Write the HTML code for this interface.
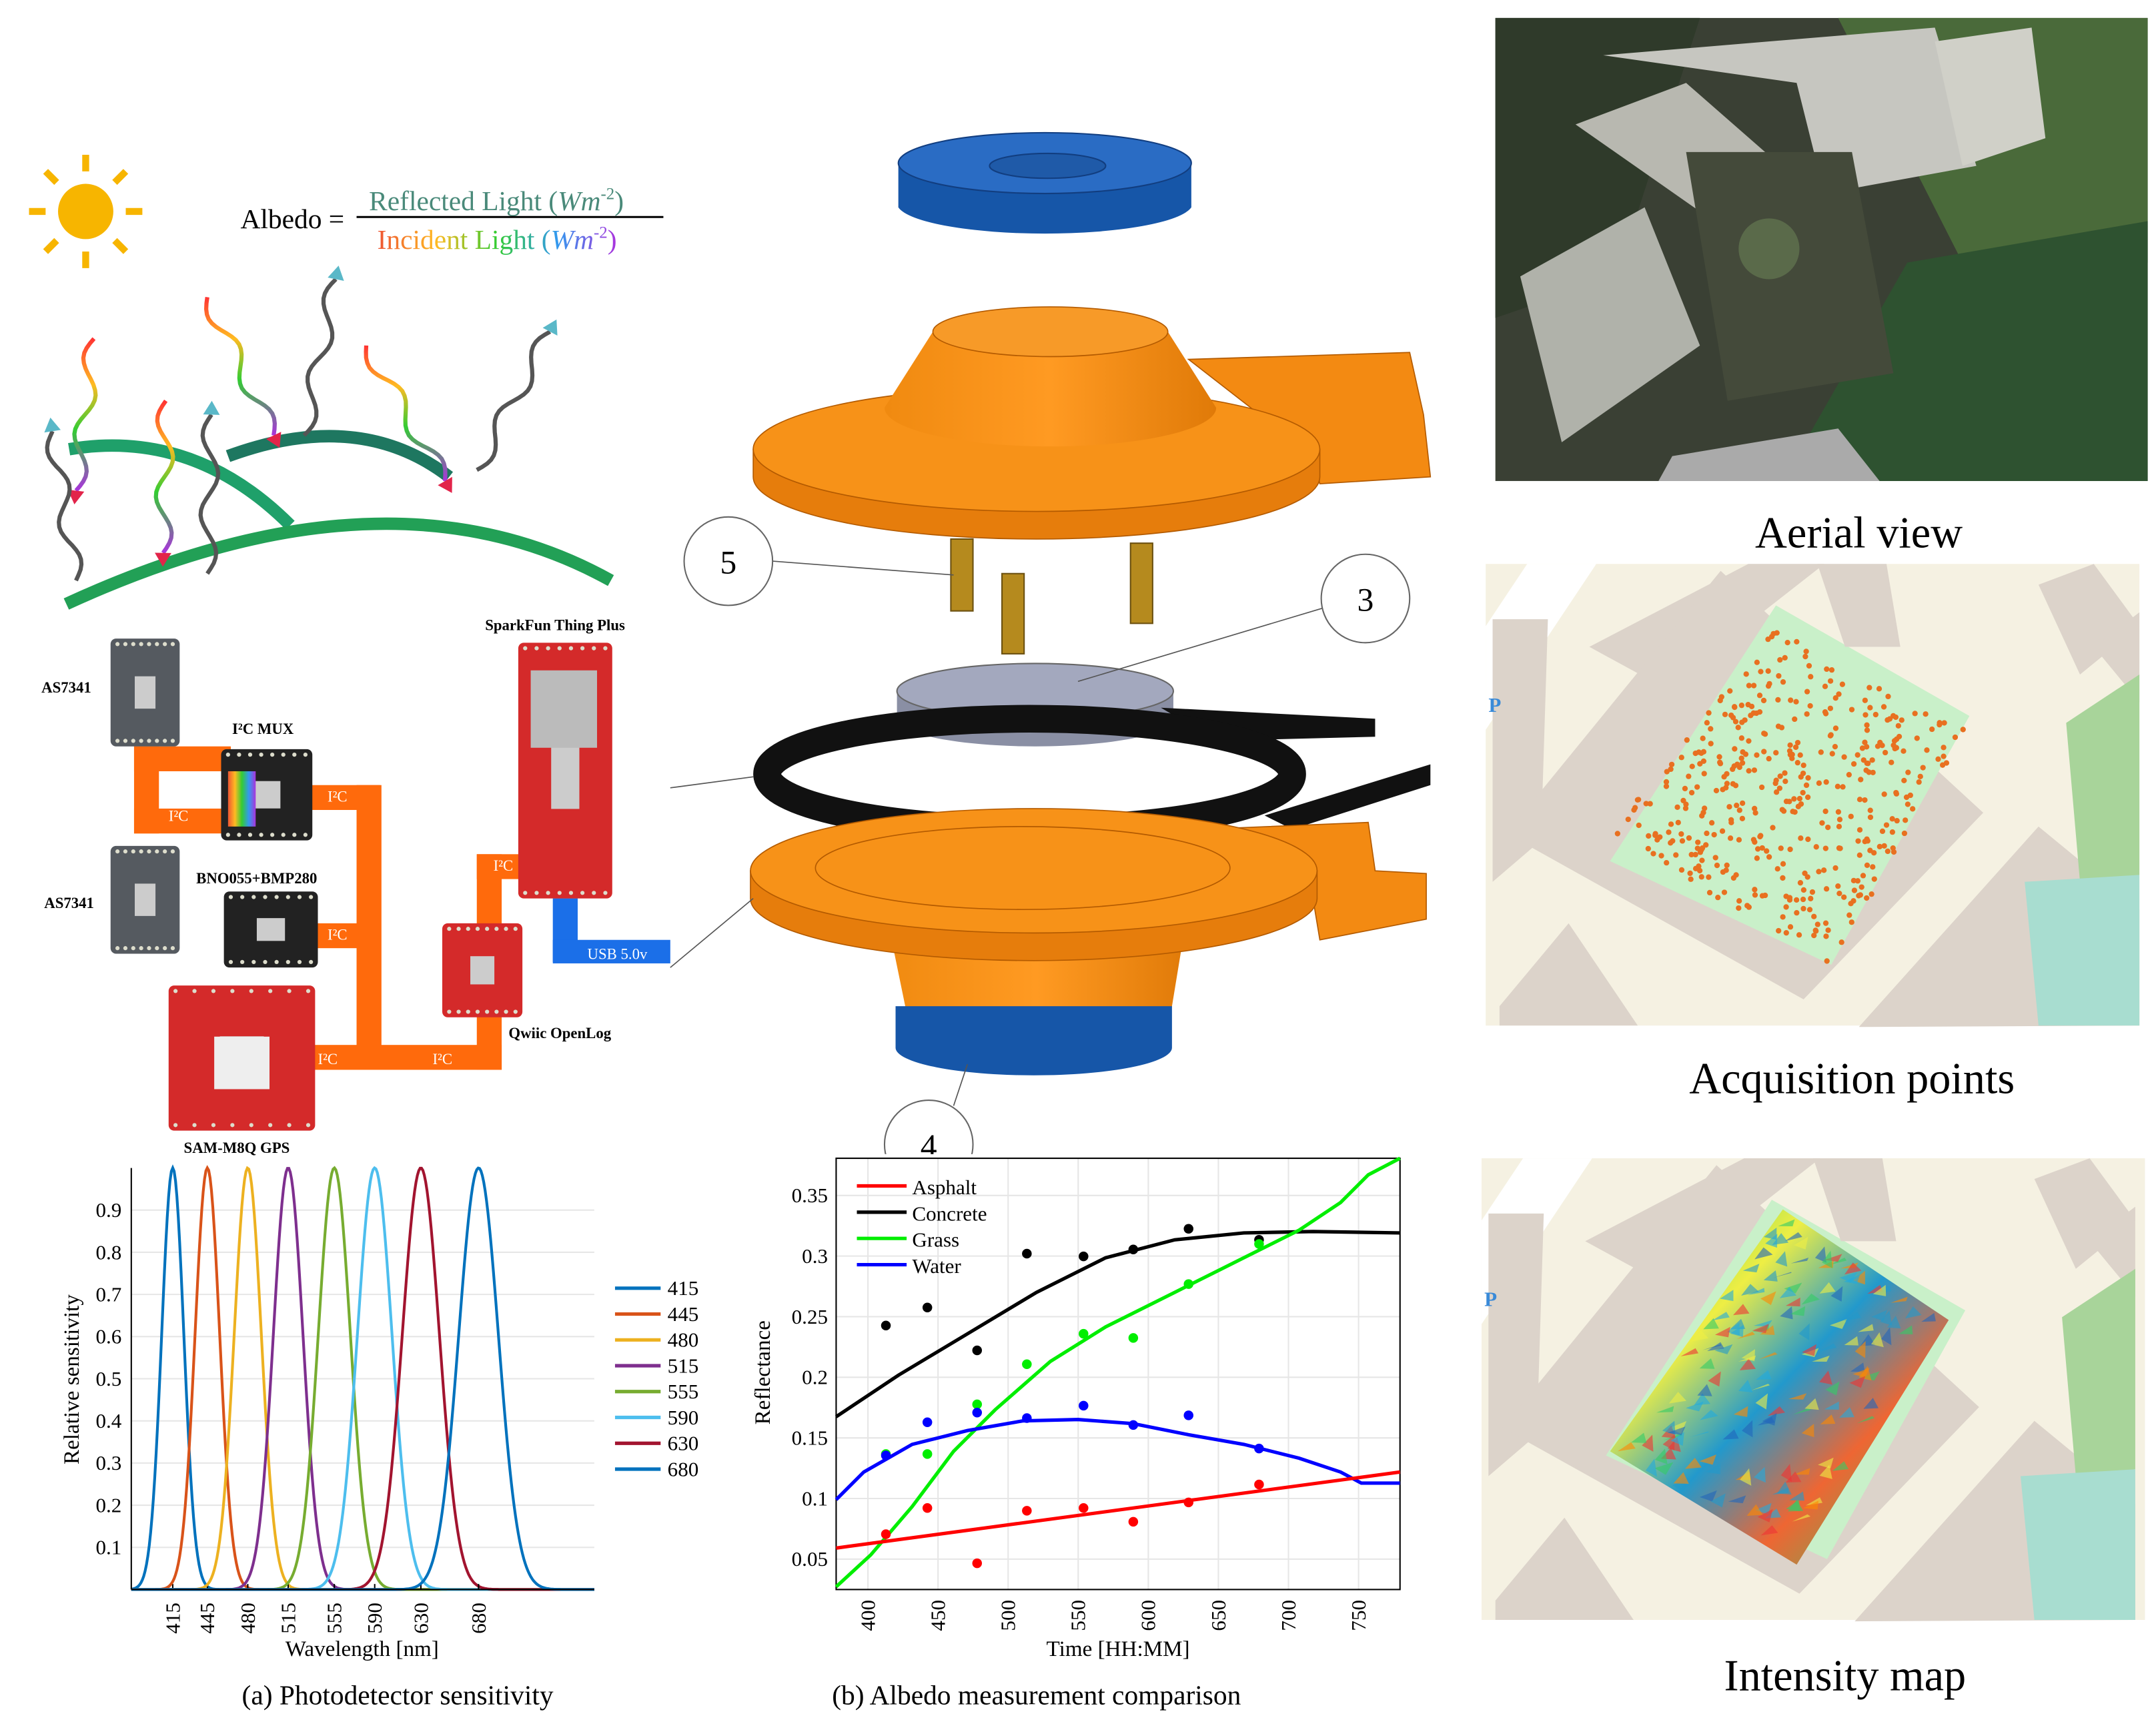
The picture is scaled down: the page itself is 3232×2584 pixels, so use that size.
<!DOCTYPE html>
<html><head><meta charset="utf-8"><style>
html,body{margin:0;padding:0;background:#fff;}
svg{display:block;}
text{font-family:"Liberation Serif",serif;}
.sans{font-family:"Liberation Sans",sans-serif;font-weight:bold;}
</style></head><body>
<svg id="s" width="3232" height="2584" viewBox="0 0 1560 1247.3" preserveAspectRatio="none" xmlns="http://www.w3.org/2000/svg">
<defs>
<linearGradient id="rb" x1="0" x2="1"><stop offset="0" stop-color="#e53"/><stop offset=".25" stop-color="#fb2"/><stop offset=".5" stop-color="#3c3"/><stop offset=".75" stop-color="#39e"/><stop offset="1" stop-color="#a3d"/></linearGradient>
<linearGradient id="wv" x1="0" y1="0" x2="0" y2="1"><stop offset="0" stop-color="#f33"/><stop offset=".3" stop-color="#fb2"/><stop offset=".6" stop-color="#3c3"/><stop offset="1" stop-color="#a3d"/></linearGradient>
<linearGradient id="or" x1="0" x2="1"><stop offset="0" stop-color="#f08a10"/><stop offset=".5" stop-color="#ff9a22"/><stop offset="1" stop-color="#e07a08"/></linearGradient>
<linearGradient id="heat" x1="0" y1="0" x2="1" y2="1"><stop offset="0" stop-color="#3c6"/><stop offset=".3" stop-color="#ee4"/><stop offset=".5" stop-color="#29c"/><stop offset=".7" stop-color="#e63"/><stop offset="1" stop-color="#3c6"/></linearGradient>
</defs>

<circle cx="62" cy="153" r="20" fill="#f7b500"/>
<g stroke="#f7b500" stroke-width="5">
<line x1="62" y1="112" x2="62" y2="124"/><line x1="62" y1="182" x2="62" y2="194"/>
<line x1="21" y1="153" x2="33" y2="153"/><line x1="91" y1="153" x2="103" y2="153"/>
<line x1="33" y1="124" x2="41" y2="132"/><line x1="83" y1="174" x2="91" y2="182"/>
<line x1="91" y1="124" x2="83" y2="132"/><line x1="41" y1="174" x2="33" y2="182"/>
</g>
<text x="174" y="165" font-size="20">Albedo =</text>
<text x="267" y="152" font-size="20" fill="#4a8a7a">Reflected Light (<tspan font-style="italic">Wm</tspan><tspan font-size="12" dy="-8">-2</tspan><tspan dy="8">)</tspan></text>
<line x1="258" y1="157" x2="480" y2="157" stroke="#000" stroke-width="1.5"/>
<text x="273" y="180" font-size="20" fill="url(#rb)">Incident Light  (<tspan font-style="italic">Wm</tspan><tspan font-size="12" dy="-8">-2</tspan><tspan dy="8">)</tspan></text>

<path d="M50,325 Q140,310 210,380" stroke="#1fa06a" stroke-width="9" fill="none"/>
<path d="M165,330 Q260,295 325,345" stroke="#1e7760" stroke-width="9" fill="none"/>
<path d="M48,437 Q280,330 442,420" stroke="#22a056" stroke-width="9" fill="none"/>
<g fill="none" stroke-width="3" id="waves"></g>

<g fill="#ff6a0c">
<rect x="97" y="540" width="70" height="18"/><rect x="97" y="585" width="70" height="18"/>
<rect x="97" y="540" width="18" height="63"/>
<rect x="225" y="568" width="50" height="18"/><rect x="258" y="568" width="18" height="205"/>
<rect x="225" y="668" width="50" height="18"/>
<rect x="225" y="756" width="138" height="18"/><rect x="345" y="700" width="18" height="74"/>
<rect x="345" y="618" width="18" height="60"/><rect x="345" y="618" width="40" height="18"/>
</g>
<rect x="400" y="650" width="18" height="46" fill="#1b6fe8"/><rect x="400" y="680" width="85" height="17" fill="#1b6fe8"/>
<text x="425" y="694" font-size="11" fill="#fff">USB 5.0v</text>
<g font-size="11" fill="#fff"><text x="122" y="566">I²C</text><text x="122" y="594">I²C</text><text x="237" y="580">I²C</text><text x="237" y="680">I²C</text><text x="230" y="770">I²C</text><text x="313" y="770">I²C</text><text x="357" y="630">I²C</text></g>
<g id="boards"></g>
<g class="sans" font-size="11"><text x="30" y="501">AS7341</text><text x="32" y="657">AS7341</text><text x="168" y="531">I²C MUX</text><text x="142" y="639">BNO055+BMP280</text><text x="351" y="456">SparkFun Thing Plus</text><text x="368" y="751">Qwiic OpenLog</text><text x="133" y="834">SAM-M8Q GPS</text></g>

<path d="M650,118 L650,150 A107,22 0 0 0 862,150 L862,118 Z" fill="#1656a8"/>
<ellipse cx="756" cy="118" rx="106" ry="22" fill="#2a6cc4" stroke="#123e80"/>
<ellipse cx="758" cy="120" rx="42" ry="9" fill="#1f5aa8" stroke="#123e80"/>
<path d="M860,260 L1020,255 L1030,300 L1035,345 L955,350 L950,330 Z" fill="#f38a12" stroke="#b35a00" stroke-width="0.8"/>
<path d="M545,325 L545,345 A205,45 0 0 0 955,345 L955,325 Z" fill="#e67d0c" stroke="#b35a00" stroke-width="0.8"/>
<ellipse cx="750" cy="325" rx="205" ry="45" fill="#f79218" stroke="#b35a00" stroke-width="0.8"/>
<path d="M640,295 L675,240 A85,18 0 0 1 845,240 L880,295 A120,28 0 0 1 640,295 Z" fill="url(#or)"/>
<ellipse cx="760" cy="240" rx="85" ry="18" fill="#f79a28" stroke="#b35a00" stroke-width="0.8"/>
<g fill="#b58a1e" stroke="#6b5010"><rect x="688" y="390" width="16" height="52"/><rect x="725" y="415" width="16" height="58"/><rect x="818" y="393" width="16" height="58"/></g>
<path d="M649,500 L649,520 A100,20 0 0 0 849,520 L849,500 Z" fill="#8a8fa4"/>
<ellipse cx="749" cy="500" rx="100" ry="20" fill="#a3a8be" stroke="#666"/>
<path d="M840,512 L995,520 L995,533 L880,536 Z M915,590 L1035,553 L1035,568 L935,600 Z" fill="#111"/>
<ellipse cx="745" cy="560" rx="190" ry="40" fill="none" stroke="#111" stroke-width="20"/>
<path d="M640,655 L655,728 A95,18 0 0 0 848,728 L860,655 Z" fill="url(#or)"/>
<path d="M648,728 L648,758 A100,20 0 0 0 848,758 L848,728 Z" fill="#1656a8"/>
<path d="M870,600 L990,595 L995,630 L1032,632 L1032,665 L955,680 L950,650 Z" fill="#f38a12" stroke="#b35a00" stroke-width="0.8"/>
<path d="M543,630 L543,650 A205,45 0 0 0 953,650 L953,630 Z" fill="#e67d0c" stroke="#b35a00" stroke-width="0.8"/>
<ellipse cx="748" cy="630" rx="205" ry="45" fill="#f79218" stroke="#b35a00" stroke-width="0.8"/>
<ellipse cx="740" cy="628" rx="150" ry="30" fill="none" stroke="#b35a00" stroke-width="0.8"/>
<g stroke="#555" stroke-width="0.8"><line x1="559" y1="406" x2="690" y2="416"/><line x1="957" y1="440" x2="780" y2="493"/><line x1="485" y1="570" x2="545" y2="562"/><line x1="485" y1="700" x2="545" y2="650"/><line x1="690" y1="800" x2="700" y2="770"/></g>
<g fill="#fff" stroke="#666"><circle cx="527" cy="406" r="32"/><circle cx="988" cy="433" r="32"/><circle cx="672" cy="828" r="32"/></g>
<g font-size="24" font-family="Liberation Sans,sans-serif" text-anchor="middle"><text x="527" y="415">5</text><text x="988" y="442">3</text><text x="672" y="837">4</text></g>
<rect x="560" y="835" width="460" height="330" fill="#fff"/>

<g id="ca"></g>
<g id="cb"></g>
<text x="175" y="1233" font-size="20">(a) Photodetector sensitivity</text>
<text x="602" y="1233" font-size="20">(b) Albedo measurement comparison</text>

<rect x="1082" y="13" width="472" height="335" fill="#3a4034"/>
<polygon points="1082,13 1230,13 1170,200 1082,230" fill="#2f3a2a"/>
<polygon points="1330,13 1554,13 1554,190 1420,190" fill="#4a6a3a"/>
<polygon points="1380,190 1554,160 1554,348 1290,348" fill="#2e5230"/>
<polygon points="1140,90 1220,60 1300,130 1240,160" fill="#b8b8b0"/>
<polygon points="1160,40 1400,20 1430,120 1320,140 1300,60" fill="#c6c6c0"/>
<polygon points="1100,200 1190,150 1230,250 1130,320" fill="#b0b2aa"/>
<polygon points="1210,330 1330,310 1360,348 1200,348" fill="#aaa"/>
<polygon points="1400,30 1470,20 1480,100 1420,120" fill="#d0d0c8"/>
<polygon points="1220,110 1340,110 1370,270 1250,290" fill="#444a3a"/>
<circle cx="1280" cy="180" r="22" fill="#5a6a4a"/>
<text x="1345" y="396" font-size="32" text-anchor="middle">Aerial view</text>
<text x="1340" y="791" font-size="32" text-anchor="middle">Acquisition points</text>
<text x="1335" y="1223" font-size="32" text-anchor="middle">Intensity map</text>

<g id="m1"><rect x="1075" y="408" width="473" height="334" fill="#f5f1e2"/></g>
<g id="m2"><rect x="1072" y="838" width="480" height="334" fill="#f5f1e2"/></g>
</svg>
<script>
var NS="http://www.w3.org/2000/svg";
function el(p,t,a,txt){var e=document.createElementNS(NS,t);for(var k in a)e.setAttribute(k,a[k]);if(txt!=null)e.textContent=txt;p.appendChild(e);return e;}
var W=document.getElementById('waves');
function wave(x0,y0,x1,y1,col,arrowEnd,acol){var d="M"+x0+","+y0;var n=30,dx=x1-x0,dy=y1-y0,L=Math.hypot(dx,dy),nx=-dy/L,ny=dx/L;for(var i=1;i<=n;i++){var t=i/n,a=Math.sin(t*Math.PI*4)*6;d+=" L"+(x0+dx*t+nx*a).toFixed(1)+","+(y0+dy*t+ny*a).toFixed(1);}el(W,'path',{d:d,stroke:col});var ux=dx/L,uy=dy/L;el(W,'polygon',{points:(x1+ux*10)+","+(y1+uy*10)+" "+(x1-uy*6)+","+(y1+ux*6)+" "+(x1+uy*6)+","+(y1-ux*6),fill:acol,stroke:'none'});}
wave(68,245,55,355,'url(#wv)',1,'#e2244a');wave(120,290,118,400,'url(#wv)',1,'#e2244a');wave(150,215,198,315,'url(#wv)',1,'#e2244a');wave(265,250,322,348,'url(#wv)',1,'#e2244a');
wave(55,420,38,312,'#555',1,'#5ab8c8');wave(150,415,153,300,'#555',1,'#5ab8c8');wave(220,315,243,202,'#555',1,'#5ab8c8');wave(345,340,398,240,'#555',1,'#5ab8c8');
var B=document.getElementById('boards');
function board(x,y,w,h,c){el(B,'rect',{x:x,y:y,width:w,height:h,rx:4,fill:c});for(var i=0;i<8;i++){el(B,'circle',{cx:x+5+i*(w-10)/7,cy:y+4,r:1.5,fill:'#ddc'});el(B,'circle',{cx:x+5+i*(w-10)/7,cy:y+h-4,r:1.5,fill:'#ddc'});}el(B,'rect',{x:x+w*0.35,y:y+h*0.35,width:w*0.3,height:h*0.3,fill:'#ccc'});}
board(80,462,50,78,'#555a60');board(80,612,50,78,'#555a60');board(160,542,66,66,'#222');board(162,645,68,55,'#222');
board(375,465,68,185,'#d42a2a');board(320,668,58,68,'#d42a2a');board(122,713,106,105,'#d42a2a');
el(B,'rect',{x:384,y:485,width:48,height:56,fill:'#bbb'});el(B,'rect',{x:155,y:750,width:40,height:38,fill:'#eee'});
el(B,'rect',{x:165,y:558,width:20,height:40,fill:'url(#rb)'});
var A=document.getElementById('ca');
var ax0=95,ax1=430,ay0=845,ay1=1150;
for(var v=1;v<=9;v++){var y=ay1-v*30.5;el(A,'line',{x1:ax0,y1:y,x2:ax1,y2:y,stroke:'#e6e6e6'});el(A,'text',{x:88,y:y+5,'font-size':15,'text-anchor':'end'},'0.'+v);}
var L=[415,445,480,515,555,590,630,680],C=['#0072bd','#d95319','#edb120','#7e2f8e','#77ac30','#4dbeee','#a2142f','#0072bd'];
function lx(l){return 125+(l-415)*0.835;}
L.forEach(function(l,i){var sg=8+i*0.9,d="";for(var x=ax0;x<=ax1;x+=1){var y=ay1-305*Math.exp(-Math.pow((x-lx(l))/sg,2)/2);d+=(x==ax0?"M":"L")+x+","+y.toFixed(1);}el(A,'path',{d:d,fill:'none',stroke:C[i],'stroke-width':2});el(A,'line',{x1:lx(l),y1:1146,x2:lx(l),y2:1150,stroke:'#000'});el(A,'text',{x:0,y:0,'font-size':15,transform:'translate('+(lx(l)+5)+',1182) rotate(-90)'},l);
el(A,'line',{x1:445,y1:932+i*18.7,x2:478,y2:932+i*18.7,stroke:C[i],'stroke-width':2.5});el(A,'text',{x:483,y:937+i*18.7,'font-size':15},l);});
el(A,'line',{x1:ax0,y1:ay0,x2:ax0,y2:ay1,stroke:'#000'});el(A,'line',{x1:ax0,y1:ay1,x2:ax1,y2:ay1,stroke:'#000'});
el(A,'text',{x:262,y:1198,'font-size':16,'text-anchor':'middle'},'Wavelength [nm]');
el(A,'text',{x:0,y:0,'font-size':16,'text-anchor':'middle',transform:'translate(57,998) rotate(-90)'},'Relative sensitivity');
var Bc=document.getElementById('cb');
var bx0=605,bx1=1013,by0=838,by1=1150;
el(Bc,'rect',{x:bx0,y:by0,width:bx1-bx0,height:by1-by0,fill:'#fff'});
for(var k=0;k<7;k++){var v=0.05+k*0.05,y=1128-(v-0.05)*877;el(Bc,'line',{x1:bx0,y1:y,x2:bx1,y2:y,stroke:'#e6e6e6'});el(Bc,'text',{x:599,y:y+5,'font-size':15,'text-anchor':'end'},k==0?'0.05':(+v.toFixed(2)).toString());}
for(var t=400;t<=750;t+=50){var x=628+(t-400)*1.0143;el(Bc,'line',{x1:x,y1:by0,x2:x,y2:by1,stroke:'#e6e6e6'});el(Bc,'text',{x:0,y:0,'font-size':15,transform:'translate('+(x+5)+',1180) rotate(-90)'},t);}
el(Bc,'rect',{x:bx0,y:by0,width:bx1-bx0,height:by1-by0,fill:'none',stroke:'#000'});
function pl(pts,c){el(Bc,'polyline',{points:pts,fill:'none',stroke:c,'stroke-width':2.5});}
pl("605,1025 650,995 700,965 750,935 800,910 850,897 900,892 950,891 1013,892",'#000');
pl("605,1148 630,1125 660,1090 690,1050 720,1020 760,985 800,960 850,935 900,910 940,890 970,870 990,850 1013,838",'#0e0');
pl("605,1085 625,1065 660,1045 700,1035 740,1028 780,1027 820,1030 860,1038 900,1045 940,1055 970,1065 985,1073 1013,1073",'#00f');
pl("605,1120 1013,1065",'#f00');
function dots(a,c){for(var i=0;i<a.length;i+=2)el(Bc,'circle',{cx:a[i],cy:a[i+1],r:3.5,fill:c});}
dots([641,959,671,946,707,977,743,907,784,909,820,904,860,889,911,897],'#000');
dots([641,1052,671,1052,707,1016,743,987,784,965,820,968,860,929,911,900],'#0e0');
dots([641,1053,671,1029,707,1022,743,1026,784,1017,820,1031,860,1024,911,1048],'#00f');
dots([641,1110,671,1091,707,1131,743,1093,784,1091,820,1101,860,1087,911,1074],'#f00');
var ln=[['Asphalt','#f00'],['Concrete','#000'],['Grass','#0e0'],['Water','#00f']];
ln.forEach(function(q,i){el(Bc,'line',{x1:620,y1:858+i*19,x2:656,y2:858+i*19,stroke:q[1],'stroke-width':2.5});el(Bc,'text',{x:660,y:864+i*19,'font-size':15},q[0]);});
el(Bc,'text',{x:809,y:1198,'font-size':16,'text-anchor':'middle'},'Time [HH:MM]');
el(Bc,'text',{x:0,y:0,'font-size':16,'text-anchor':'middle',transform:'translate(557,993) rotate(-90)'},'Reflectance');
function mapbase(g,ox,oy){var G=document.getElementById(g);
function P(pts,c){var s=pts.map(function(p,i){return (i%2?p+oy:p+ox)}).join(' ').replace(/(\S+) (\S+)/g,'$1,$2');el(G,'polygon',{points:s,fill:c});}
P([0,45,30,0,80,0,0,120],'#fff');P([5,40,45,40,40,200,5,230],'#dcd3ca');
P([190,0,245,0,130,90,75,60],'#dcd3ca');P([15,195,170,5,360,180,230,315],'#dcd3ca');P([270,335,400,190,473,250,473,334],'#dcd3ca');
P([10,320,60,260,110,334,10,334],'#dcd3ca');P([400,15,440,0,473,45,430,80],'#dcd3ca');P([440,60,473,35,473,100],'#dcd3ca');
P([90,215,210,30,350,110,250,290],'#c9f0c9');P([420,115,473,80,473,225,430,230],'#a8d49a');P([390,230,473,225,473,334,400,334],'#a8ddd0');
P([240,0,290,0,300,60,260,60],'#dcd3ca');
el(G,'text',{x:ox+2,y:oy+107,'font-size':15,fill:'#3a8ad8','font-family':'Liberation Sans,sans-serif','font-weight':'bold'},'P');
return G;}
var G1=mapbase('m1',1075,408);
var seed=7;function rnd(){seed=(seed*9301+49297)%233280;return seed/233280;}
for(var i=0;i<420;i++){var u=rnd(),v=rnd();
var X=(1-u)*(1-v)*1165+u*(1-v)*1285+u*v*1425+(1-u)*v*1325,Y=(1-u)*(1-v)*603+u*(1-v)*455+u*v*525+(1-u)*v*698;
el(G1,'circle',{cx:X.toFixed(1),cy:Y.toFixed(1),r:2,fill:'#e87020'});}
var G2=mapbase('m2',1072,838);
el(G2,'polygon',{points:'1165,1050 1290,875 1410,955 1300,1132',fill:'url(#heat)'});
var cols=['#e33','#29c','#ee4','#3c6','#2ad','#f80','#26b'];
function q(a,b){return ((1-a)*(1-b)*1165+a*(1-b)*1290+a*b*1410+(1-a)*b*1300).toFixed(1)+","+((1-a)*(1-b)*1050+a*(1-b)*875+a*b*955+(1-a)*b*1132).toFixed(1);}
for(var i=0;i<160;i++){var u=rnd()*0.95,v=rnd()*0.95,w=0.05,h=0.06;
el(G2,'polygon',{points:q(u,v)+" "+q(u+w,v+rnd()*h)+" "+q(u+rnd()*w,v+h),fill:cols[i%7],opacity:0.6});}
</script>
</body></html>
